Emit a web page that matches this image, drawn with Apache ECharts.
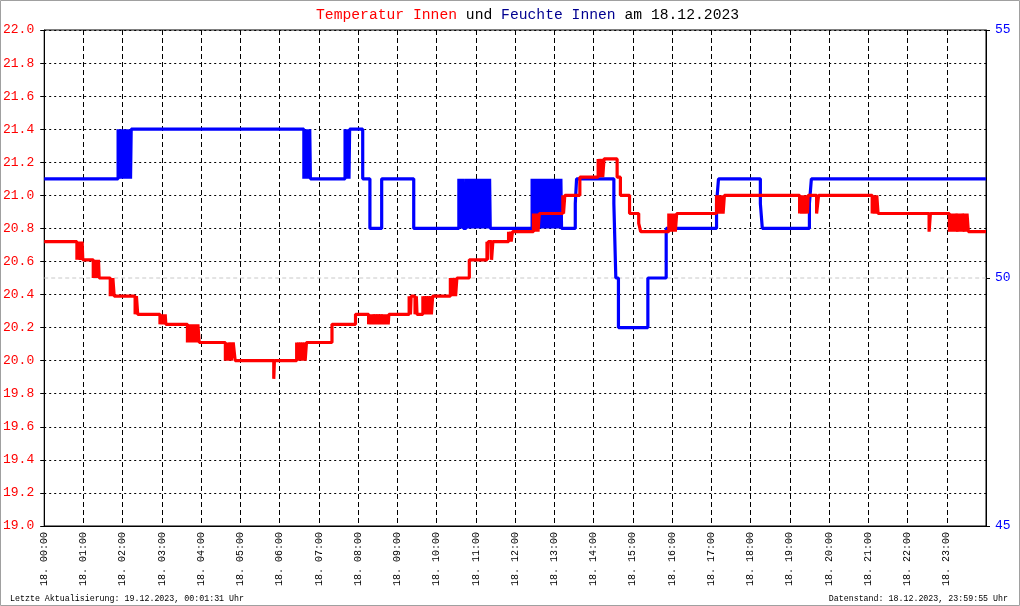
<!DOCTYPE html>
<html>
<head>
<meta charset="utf-8">
<script src="https://cdn.jsdelivr.net/npm/echarts@6/dist/echarts.min.js"></script>
<style>
html,body{margin:0;padding:0;background:#fff;}
#chart{width:1020px;height:606px;}
</style>
</head>
<body>
<div id="chart"></div>
<script>
// x values are minutes of the day 18.12.2023
var hourLabels = ['18. 00:00','18. 01:00','18. 02:00','18. 03:00','18. 04:00','18. 05:00','18. 06:00','18. 07:00',
  '18. 08:00','18. 09:00','18. 10:00','18. 11:00','18. 12:00','18. 13:00','18. 14:00','18. 15:00',
  '18. 16:00','18. 17:00','18. 18:00','18. 19:00','18. 20:00','18. 21:00','18. 22:00','18. 23:00'];

// Temperatur Innen (°C) – change points [minute, value]
var tempData = [
  [0,20.72],
  [50,20.61],[51,20.72],[52,20.61],[53,20.72],[55,20.61],[56,20.72],[57,20.61],[58,20.72],[59,20.61],
  [75,20.50],[76,20.61],[77,20.50],[78,20.61],[80,20.50],[81,20.61],[82,20.50],[83,20.61],[84,20.50],
  [101,20.39],[102,20.50],[104,20.39],[105,20.50],[107,20.39],
  [139,20.28],[141,20.39],[143,20.28],
  [177,20.22],[178,20.28],[180,20.22],[181,20.28],[183,20.22],[185,20.28],[186,20.22],
  [219,20.11],[220,20.22],[221,20.11],[223,20.22],[224,20.11],[226,20.22],[227,20.11],[229,20.22],[230,20.11],[232,20.22],[233,20.11],[235,20.22],[237,20.11],
  [277,20.00],[278,20.11],[279,20.00],[281,20.11],[282,20.00],[284,20.11],[286,20.00],
  [289,20.11],[292,20.00],
  [351,19.89],[352,20.00],
  [386,20.11],[387,20.00],[389,20.11],[390,20.00],[392,20.11],[393,20.00],[395,20.11],[396,20.00],[398,20.11],[399,20.00],[401,20.11],
  [440,20.22],[476,20.28],
  [496,20.22],[497,20.28],[499,20.22],[500,20.28],[502,20.22],[503,20.28],[506,20.22],[507,20.28],[510,20.22],[511,20.28],[514,20.22],[515,20.28],[518,20.22],[519,20.28],[521,20.22],[522,20.28],[524,20.22],[525,20.28],[526,20.22],[527,20.28],
  [558,20.39],[560,20.28],[561,20.39],[567,20.28],[569,20.39],[570,20.28],
  [579,20.39],[580,20.28],[582,20.39],[583,20.28],[585,20.39],[586,20.28],[588,20.39],[589,20.28],[591,20.39],[592,20.28],[594,20.39],
  [621,20.50],[622,20.39],[624,20.50],[625,20.39],[628,20.50],[629,20.39],[631,20.50],
  [650,20.61],
  [677,20.72],[678,20.61],[679,20.72],[684,20.61],[686,20.72],
  [710,20.78],[711,20.72],[713,20.78],[714,20.72],[716,20.78],
  [748,20.89],[749,20.78],[751,20.89],[752,20.78],[754,20.89],[755,20.78],[757,20.89],
  [793,21.00],[794,20.89],[796,21.00],
  [819,21.11],
  [847,21.22],[848,21.11],[850,21.22],[851,21.11],[853,21.22],[854,21.11],[856,21.22],
  [876,21.11],[881,21.00],[895,20.89],[909,20.83],[912,20.78],
  [955,20.89],[956,20.78],[958,20.89],[959,20.78],[961,20.89],[962,20.78],[964,20.89],[965,20.78],[967,20.89],
  [1028,21.00],[1029,20.89],[1031,21.00],[1032,20.89],[1034,21.00],[1035,20.89],[1037,21.00],[1038,20.89],[1040,21.00],
  [1155,20.89],[1156,21.00],[1158,20.89],[1159,21.00],[1161,20.89],[1162,21.00],[1164,20.89],[1165,21.00],[1167,20.89],[1168,21.00],
  [1181,20.89],[1184,21.00],
  [1266,20.89],[1267,21.00],[1269,20.89],[1270,21.00],[1272,20.89],[1273,21.00],[1275,20.89],
  [1353,20.78],[1355,20.89],
  [1384,20.78],[1385,20.89],[1387,20.78],[1388,20.89],[1390,20.78],[1391,20.89],[1393,20.78],[1394,20.89],[1397,20.78],[1398,20.89],[1400,20.78],[1401,20.89],[1403,20.78],[1404,20.89],[1407,20.78],[1408,20.89],[1410,20.78],[1411,20.89],[1413,20.78],
  [1440,20.78]
];

// Feuchte Innen (%) – change points [minute, value]
var humData = [
  [0,52],
  [113,53],[114,52],[115,53],[116,52],[117,53],[118,52],[119,53],[121,52],[122,53],[124,52],[125,53],[126,52],[127,53],[128,52],[129,53],[130,52],[131,53],[132,52],[133,53],
  [397,52],[398,53],[399,52],[400,53],[401,52],[402,53],[403,52],[404,53],[405,52],[406,53],[407,52],
  [460,53],[461,52],[462,53],[463,52],[465,53],[466,52],[467,53],
  [487,52],[498,51],[516,52],[565,51],
  [634,52],[635,51],[636,52],[637,51],[638,52],[639,51],[640,52],[641,51],
  [645,52],[646,51],[647,52],[648,51],[649,52],[650,51],[651,52],[652,51],[653,52],[654,51],[655,52],[656,51],[657,52],[658,51],[659,52],[660,51],[661,52],[662,51],[663,52],[664,51],
  [665,52],[666,51],[667,52],[668,51],[669,52],[670,51],[671,52],[672,51],[673,52],[674,51],[675,52],[676,51],[677,52],[678,51],[679,52],[680,51],[681,52],[682,51],
  [746,52],[747,51],[748,52],[749,51],[750,52],[751,51],[752,52],[753,51],[754,52],[755,51],[756,52],[757,51],[758,52],[759,51],[760,52],[761,51],[762,52],[763,51],[764,52],[765,51],[766,52],[767,51],[768,52],[769,51],[770,52],[771,51],[772,52],[773,51],[774,52],[775,51],[776,52],[777,51],[778,52],[779,51],[780,52],[781,51],[782,52],[783,51],[784,52],[785,51],[786,52],[787,51],[788,52],[789,51],[790,52],[791,51],
  [812,51.5],[814,52],
  [871,51.5],[872,51],[874,50],[878,49],
  [923,50],[951,51],
  [1028,51.5],[1031,52],
  [1095,51.5],[1098,51],
  [1170,51.5],[1173,52],
  [1440,52]
];

// reference line on the humidity axis
var refLine = [[0,50],[1440,50]];

var chart = echarts.init(document.getElementById('chart'), null, {renderer:'canvas'});
var mono = '"Liberation Mono", "DejaVu Sans Mono", monospace';

chart.setOption({
  animation: false,
  backgroundColor: '#ffffff',
  title: {
    text: '{r|Temperatur Innen} {k|und} {b|Feuchte Innen} {k|am 18.12.2023}',
    left: 311, top: 3,
    textStyle: {
      fontFamily: mono, fontSize: 14.7, fontWeight: 'normal', color: '#000',
      rich: {
        r: {color: '#ff0000', fontFamily: mono, fontSize: 14.7},
        k: {color: '#000000', fontFamily: mono, fontSize: 14.7},
        b: {color: '#000090', fontFamily: mono, fontSize: 14.7}
      }
    }
  },
  grid: {left: 43, right: 34, top: 30, bottom: 80, show: true, borderColor: '#000', borderWidth: 1, backgroundColor: 'transparent'},
  xAxis: {
    type: 'value', min: 0, max: 1440, interval: 60,
    axisLine: {show: true, lineStyle: {color: '#000', width: 1}},
    axisTick: {show: false},
    axisLabel: {
      rotate: 90, margin: 6, fontFamily: mono, fontSize: 10, color: '#000',
      formatter: function (v) { return hourLabels[Math.round(v / 60)] || ''; }
    },
    splitLine: {show: true, lineStyle: {color: '#000', width: 1, type: [5, 3]}}
  },
  yAxis: [
    {
      type: 'value', min: 19, max: 22, interval: 0.2, position: 'left',
      axisLine: {show: true, lineStyle: {color: '#000', width: 1}},
      axisTick: {show: true, length: 4, lineStyle: {color: '#000'}},
      axisLabel: {color: '#ff0000', fontFamily: mono, fontSize: 13, margin: 10,
        formatter: function (v) { return v.toFixed(1); }},
      splitLine: {show: true, lineStyle: {color: '#000', width: 1, type: [2, 3]}}
    },
    {
      type: 'value', min: 45, max: 55, interval: 5, position: 'right',
      axisLine: {show: true, lineStyle: {color: '#000', width: 1}},
      axisTick: {show: true, length: 4, lineStyle: {color: '#000'}},
      axisLabel: {color: '#0000ff', fontFamily: mono, fontSize: 13, margin: 9},
      splitLine: {show: false}
    }
  ],
  series: [
    {
      type: 'line', yAxisIndex: 1, data: refLine, symbol: 'none', silent: true, z: 1,
      lineStyle: {color: '#c8c8c8', width: 1, type: [4, 3]}
    },
    {
      name: 'Feuchte Innen', type: 'line', yAxisIndex: 1, data: humData, step: 'end',
      symbol: 'none', silent: true, z: 2,
      lineStyle: {color: '#0000ff', width: 3.2, join: 'bevel', cap: 'butt'}
    },
    {
      name: 'Temperatur Innen', type: 'line', yAxisIndex: 0, data: tempData, step: 'end',
      symbol: 'none', silent: true, z: 3,
      lineStyle: {color: '#ff0000', width: 3.2, join: 'bevel', cap: 'butt'}
    }
  ],
  graphic: [
    {type: 'rect', silent: true, shape: {x: 0.5, y: 0.5, width: 1019, height: 605},
      style: {fill: null, stroke: '#a0a0a0', lineWidth: 1}},
    {type: 'text', silent: true, x: 10, y: 599,
      style: {text: 'Letzte Aktualisierung: 19.12.2023, 00:01:31 Uhr', font: '8.3px ' + mono, fill: '#000', textVerticalAlign: 'middle', verticalAlign: 'middle'}},
    {type: 'text', silent: true, x: 1008, y: 599,
      style: {text: 'Datenstand: 18.12.2023, 23:59:55 Uhr', font: '8.3px ' + mono, fill: '#000', textAlign: 'right', align: 'right', textVerticalAlign: 'middle', verticalAlign: 'middle'}}
  ]
});
</script>
</body>
</html>
